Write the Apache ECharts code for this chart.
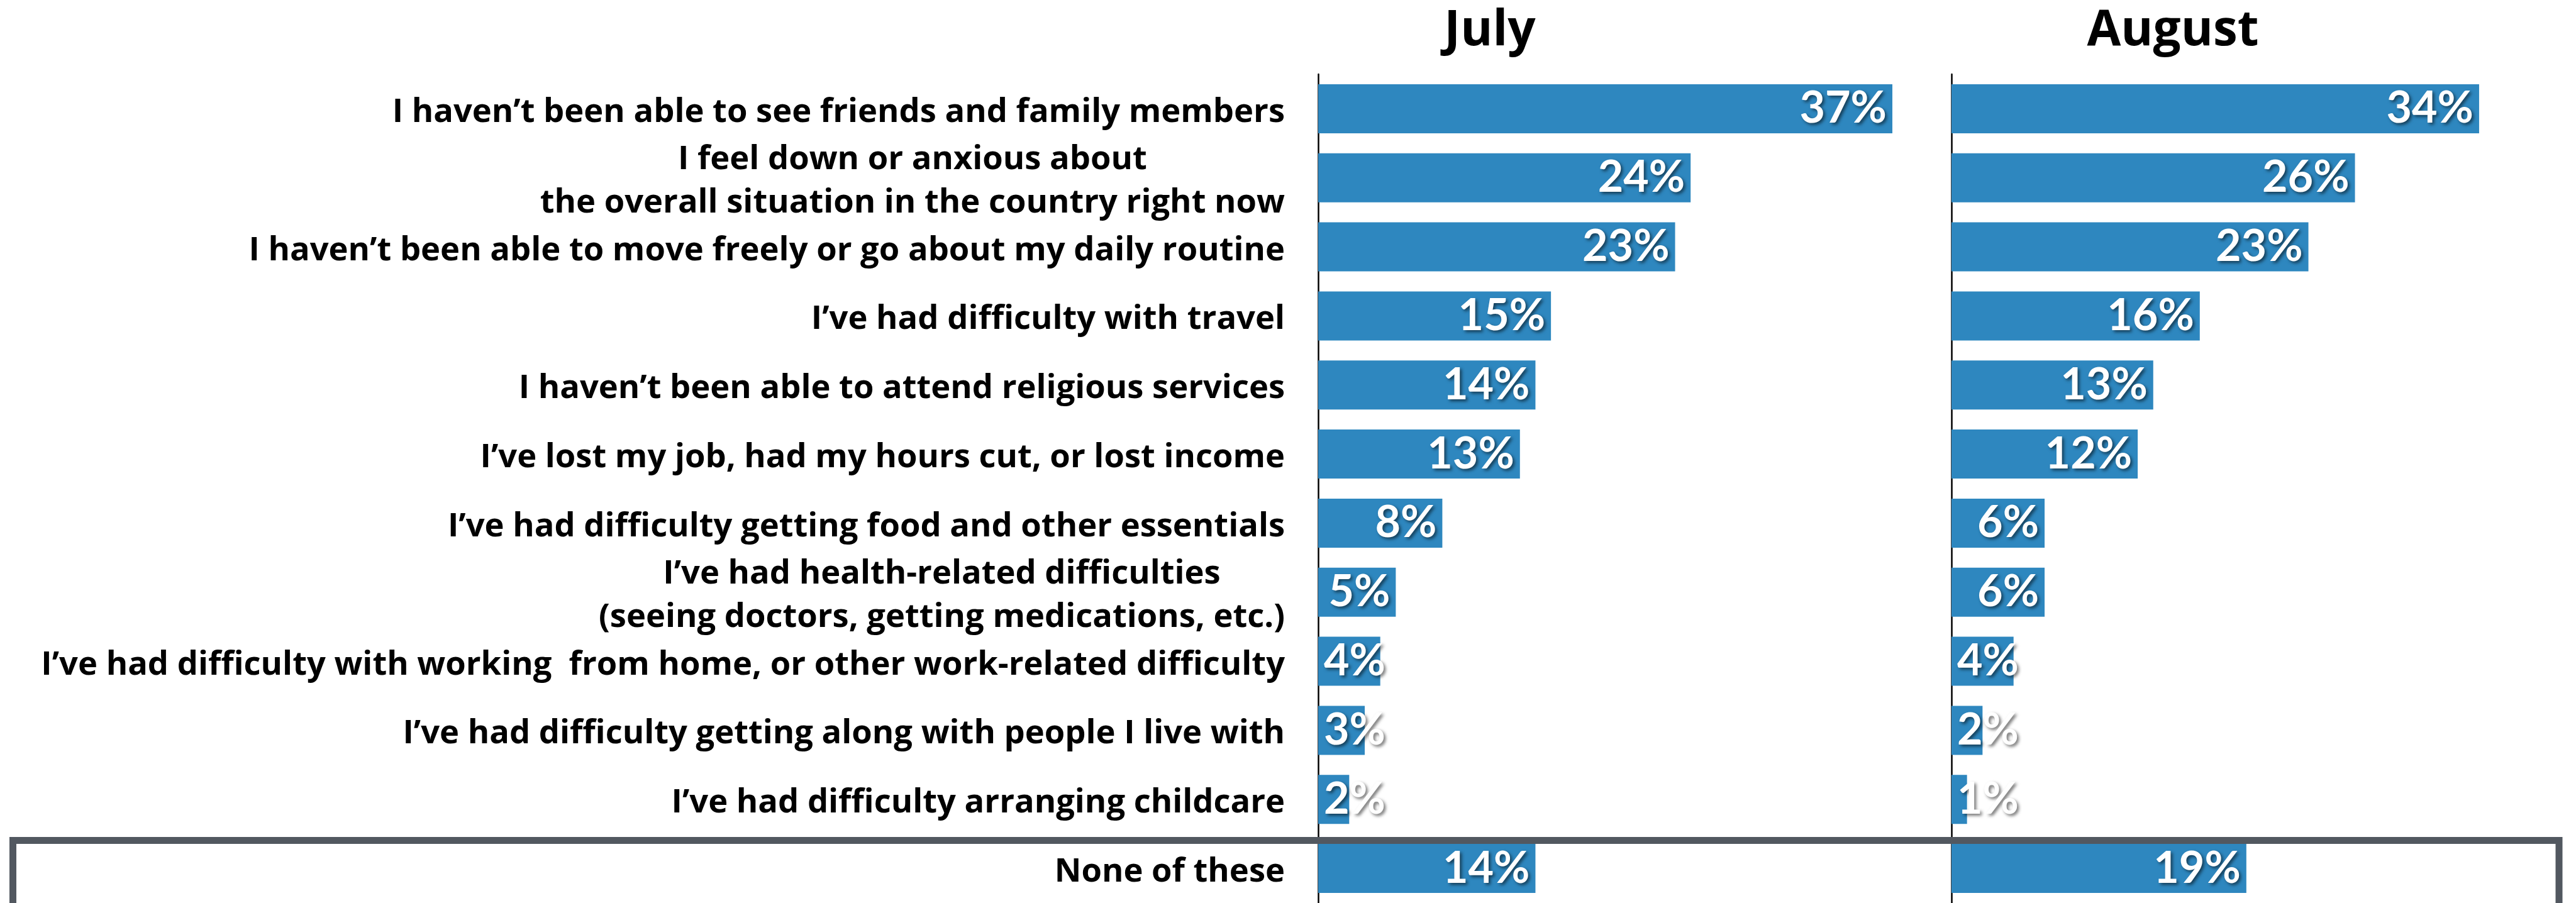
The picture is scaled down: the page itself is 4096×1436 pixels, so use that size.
<!DOCTYPE html>
<html lang="en">
<head>
<meta charset="UTF-8">
<title>Difficulties - July vs August</title>
<script src="https://cdn.jsdelivr.net/npm/echarts@6/dist/echarts.min.js"></script>
<style>
  html, body { margin: 0; padding: 0; background: #ffffff; }
  #chart { width: 4096px; height: 1436px; }
</style>
</head>
<body>
<div id="chart"></div>
<script>
// categories, top to bottom
const categories = [
    'I haven’t been able to see friends and family members',
    'I feel down or anxious about\nthe overall situation in the country right now',
    'I haven’t been able to move freely or go about my daily routine',
    'I’ve had difficulty with travel',
    'I haven’t been able to attend religious services',
    'I’ve lost my job, had my hours cut, or lost income',
    'I’ve had difficulty getting food and other essentials',
    'I’ve had health-related difficulties\n(seeing doctors, getting medications, etc.)',
    'I’ve had difficulty with working  from home, or other work-related difficulty',
    'I’ve had difficulty getting along with people I live with',
    'I’ve had difficulty arranging childcare',
    'None of these'
];
const julyValues   = [37, 24, 23, 15, 14, 13, 8, 5, 4, 3, 2, 14];
const augustValues = [34, 26, 23, 16, 13, 12, 6, 6, 4, 2, 1, 19];
const monthNames = ['July', 'August'];

const barColor = '#2e87bf';
const xMax = 40;
const gridTop = 118;
const gridHeight = 1323;
const gridWidth = 987;
const gridLefts = [2096, 3103];
const valueFont = 70;
const labelDist = 9;

// 放不下的标签放到柱子左侧
const ctx = document.createElement('canvas').getContext('2d');
ctx.font = 'bold ' + valueFont + 'px Lato';
function buildData(values) {
    return values.map(v => {
        const w = ctx.measureText(v + '%').width + labelDist * 2;
        const fits = w <= v * gridWidth / xMax;
        return { value: v, label: { position: fits ? 'insideRight' : 'insideLeft' } };
    });
}

const myChart = echarts.init(document.getElementById('chart'));

const grids = gridLefts.map(l => ({ left: l, top: gridTop, width: gridWidth, height: gridHeight }));

const option = {
    backgroundColor: '#ffffff',
    animation: false,
    grid: grids,
    xAxis: grids.map((g, i) => ({
        type: 'value', gridIndex: i, min: 0, max: xMax, show: false
    })),
    yAxis: grids.map((g, i) => ({
        type: 'category',
        gridIndex: i,
        data: categories,
        inverse: true,
        axisLine: { show: true, lineStyle: { color: '#000000', width: 2.5 } },
        axisTick: { show: false },
        axisLabel: {
            show: i === 0,
            interval: 0,
            margin: 53,
            align: 'right',
            padding: [12, 0, 0, 0],
            formatter: val => val.split('\n').map(s => '{c|' + s + '}').join('\n'),
            rich: {
                c: {
                    align: 'center',
                    fontFamily: 'Open Sans',
                    fontWeight: 'bold',
                    fontSize: 52.5,
                    lineHeight: 69,
                    color: '#000000'
                }
            }
        }
    })),
    series: [julyValues, augustValues].map((vals, i) => ({
        type: 'bar',
        name: monthNames[i],
        xAxisIndex: i,
        yAxisIndex: i,
        data: buildData(vals),
        barCategoryGap: '29%',
        itemStyle: { color: barColor },
        label: {
            show: true,
            formatter: '{c}%',
            distance: labelDist,
            padding: [8, 0, 0, 0],
            color: '#ffffff',
            fontFamily: 'Lato',
            fontWeight: 'bold',
            fontSize: valueFont,
            textShadowColor: 'rgba(0,0,0,0.55)',
            textShadowBlur: 5,
            textShadowOffsetX: 3,
            textShadowOffsetY: 3
        },
        z: 3
    })),
    graphic: [
        {
            type: 'text', x: 2369, y: 50,
            style: { text: monthNames[0], align: 'center', verticalAlign: 'middle', fontFamily: 'Open Sans', fontWeight: 'bold', fontSize: 78, fill: '#000000' }
        },
        {
            type: 'text', x: 3455, y: 50,
            style: { text: monthNames[1], align: 'center', verticalAlign: 'middle', fontFamily: 'Open Sans', fontWeight: 'bold', fontSize: 78, fill: '#000000' }
        },
        // box around "None of these"
        {
            type: 'rect', z: 1,
            shape: { x: 20.5, y: 1336.5, width: 4048.5, height: 200 },
            style: { fill: 'none', stroke: '#525860', lineWidth: 11 }
        }
    ]
};
myChart.setOption(option);
</script>
</body>
</html>
